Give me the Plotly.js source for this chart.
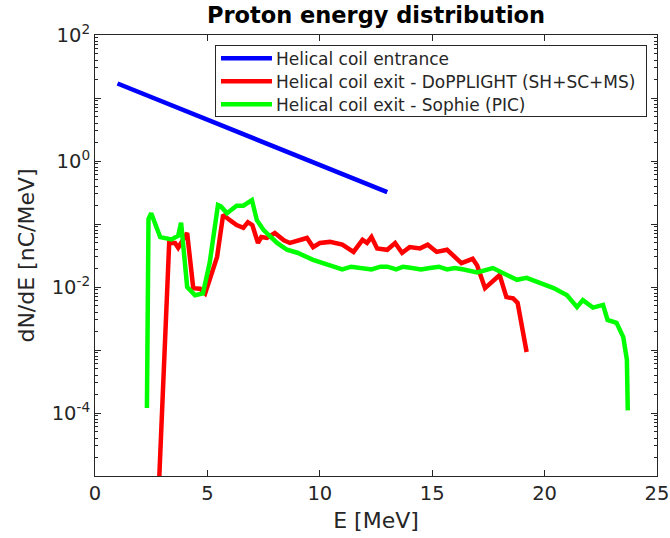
<!DOCTYPE html>
<html>
<head>
<meta charset="utf-8">
<script src="https://cdn.plot.ly/plotly-3.0.1.min.js"></script>
<style>html,body{margin:0;padding:0;background:#fff;}#chart{width:670px;height:538px;}</style>
</head>
<body>
<div id="chart"></div>
<script>
// Helical coil entrance
var entranceE = [1, 13];
var entranceN = [17, 0.32];

// Helical coil exit - DoPPLIGHT (SH+SC+MS)
var doppE = [2.85, 3.2, 3.3, 3.56, 3.7, 4.1, 4.37, 4.67, 4.9, 5.43, 5.7, 6.0, 6.3, 6.6, 6.8, 7.0, 7.25, 7.4, 7.65, 8.0,
             8.4, 8.67, 9.1, 9.43, 9.7, 10.0, 10.45, 10.77, 11.0, 11.5, 11.9, 12.1, 12.3, 12.55, 13.0, 13.35, 13.66, 14.0,
             14.46, 14.8, 15.2, 15.66, 15.9, 16.3, 16.8, 17.0, 17.35, 17.66, 18.0, 18.3, 18.6, 18.8, 19.2];
var doppN = [8e-6, 0.013, 0.05, 0.05, 0.042, 0.072, 0.0096, 0.0094, 0.0079, 0.03, 0.14, 0.115, 0.096, 0.087, 0.107, 0.096, 0.05, 0.062, 0.06, 0.072,
             0.055, 0.05, 0.056, 0.06, 0.043, 0.05, 0.052, 0.05, 0.047, 0.036, 0.056, 0.05, 0.062, 0.041, 0.039, 0.05, 0.035, 0.043,
             0.041, 0.047, 0.036, 0.039, 0.032, 0.024, 0.028, 0.022, 0.0096, 0.012, 0.0155, 0.0069, 0.0066, 0.0056, 0.00093];

// Helical coil exit - Sophie (PIC)
var sophieE = [2.31, 2.38, 2.5, 2.9, 3.4, 3.7, 3.83, 4.1, 4.45, 4.8, 5.1, 5.47, 5.6, 5.87, 6.3, 6.6, 6.98, 7.2, 7.5, 8.1,
               8.54, 9.0, 9.7, 10.45, 11.0, 11.4, 11.9, 12.3, 12.7, 13.0, 13.4, 13.7, 14.1, 14.5, 14.9, 15.3, 15.66, 16.0, 16.4,
               17.0, 17.7, 18.15, 18.77, 19.2, 19.8, 20.4, 21.0, 21.44, 21.7, 22.15, 22.6, 22.8, 23.2, 23.5, 23.66, 23.7];
var sophieN = [1.2e-4, 0.12, 0.148, 0.062, 0.057, 0.065, 0.105, 0.01, 0.0074, 0.0079, 0.024, 0.2, 0.19, 0.148, 0.195, 0.195, 0.24, 0.115, 0.08, 0.05,
               0.039, 0.035, 0.027, 0.022, 0.019, 0.021, 0.02, 0.019, 0.021, 0.021, 0.019, 0.021, 0.02, 0.019, 0.02, 0.021, 0.019, 0.02, 0.019,
               0.017, 0.02, 0.017, 0.013, 0.014, 0.0114, 0.0096, 0.0074, 0.0048, 0.0062, 0.0047, 0.0052, 0.003, 0.0027, 0.0016, 0.0007, 1.1e-4];

var seriesNames = ['Helical coil entrance', 'Helical coil exit - DoPPLIGHT (SH+SC+MS)', 'Helical coil exit - Sophie (PIC)'];
var xTickVals = [0, 5, 10, 15, 20, 25];
var yTickVals = [1e-5, 1e-4, 1e-3, 1e-2, 1e-1, 1, 10, 100];
var yTickText = ['', '10<sup>-4</sup>', '', '10<sup>-2</sup>', '', '10<sup>0</sup>', '', '10<sup>2</sup>'];

// minor tick positions (2..9 x each decade)
var yMinorVals = [];
for (var p = -5; p < 2; p++) { for (var m = 2; m <= 9; m++) { yMinorVals.push(m * Math.pow(10, p)); } }

var axisColor = '#262626';
var fontFam = 'DejaVu Sans, sans-serif';

var traces = [
  {x: entranceE, y: entranceN, mode: 'lines', name: seriesNames[0], line: {color: '#0000ff', width: 4.5}},
  {x: doppE, y: doppN, mode: 'lines', name: seriesNames[1], line: {color: '#ff0000', width: 4.5}},
  {x: sophieE, y: sophieN, mode: 'lines', name: seriesNames[2], line: {color: '#00ff00', width: 4.5}}
];

var layout = {
  width: 670, height: 538,
  margin: {l: 95, r: 13, t: 35, b: 62},
  paper_bgcolor: '#fff', plot_bgcolor: '#fff',
  font: {family: fontFam, color: axisColor, size: 17},
  title: {text: '<b>Proton energy distribution</b>', font: {family: fontFam, size: 22.5, color: '#000'},
          x: 0.5, xref: 'paper', xanchor: 'center', y: 0.972, yref: 'container', yanchor: 'middle'},
  showlegend: true,
  legend: {x: 0.2135, y: 0.977, xanchor: 'left', yanchor: 'top', bgcolor: '#fff',
           bordercolor: axisColor, borderwidth: 1, font: {family: fontFam, size: 17, color: axisColor},
           tracegroupgap: 0, itemwidth: 50},
  xaxis: {
    range: [0, 25], tickvals: xTickVals, ticks: 'inside', ticklen: 6, tickcolor: axisColor,
    showline: true, linecolor: axisColor, linewidth: 1, mirror: 'allticks', showgrid: false, zeroline: false,
    tickfont: {family: fontFam, size: 19.5, color: axisColor},
    title: {text: 'E [MeV]', font: {family: fontFam, size: 22, color: axisColor}, standoff: 8}
  },
  yaxis: {
    type: 'log', range: [-5, 2], tickmode: 'array', tickvals: yTickVals, ticktext: yTickText,
    ticks: 'inside', ticklen: 6, tickcolor: axisColor,
    minor: {tickmode: 'array', tickvals: yMinorVals, ticks: 'inside', ticklen: 3, tickcolor: axisColor, showgrid: false},
    showline: true, linecolor: axisColor, linewidth: 1, mirror: 'allticks', showgrid: false, zeroline: false,
    tickfont: {family: fontFam, size: 19.5, color: axisColor},
    title: {text: 'dN/dE [nC/MeV]', font: {family: fontFam, size: 22, color: axisColor}, standoff: 10}
  }
};

Plotly.newPlot('chart', traces, layout, {displayModeBar: false, staticPlot: true}).then(function () {
  // lengthen the legend line samples to match the reference style
  document.querySelectorAll('.legendlines path').forEach(function (el) {
    el.setAttribute('d', 'M5,0h51');
  });
  // tighten legend row spacing and box size to match the reference
  var items = document.querySelectorAll('.legend .traces');
  items.forEach(function (el, i) {
    var t = el.getAttribute('transform') || '';
    var m = /translate\(\s*([-\d.]+)/.exec(t);
    var tx = m ? parseFloat(m[1]) : 0;
    el.setAttribute('transform', 'translate(' + tx + ',' + (13 + i * 23) + ')');
  });
  var bg = document.querySelector('.legend rect.bg');
  if (bg) { bg.setAttribute('height', '71'); bg.setAttribute('width', '431'); }
});
</script>
</body>
</html>
